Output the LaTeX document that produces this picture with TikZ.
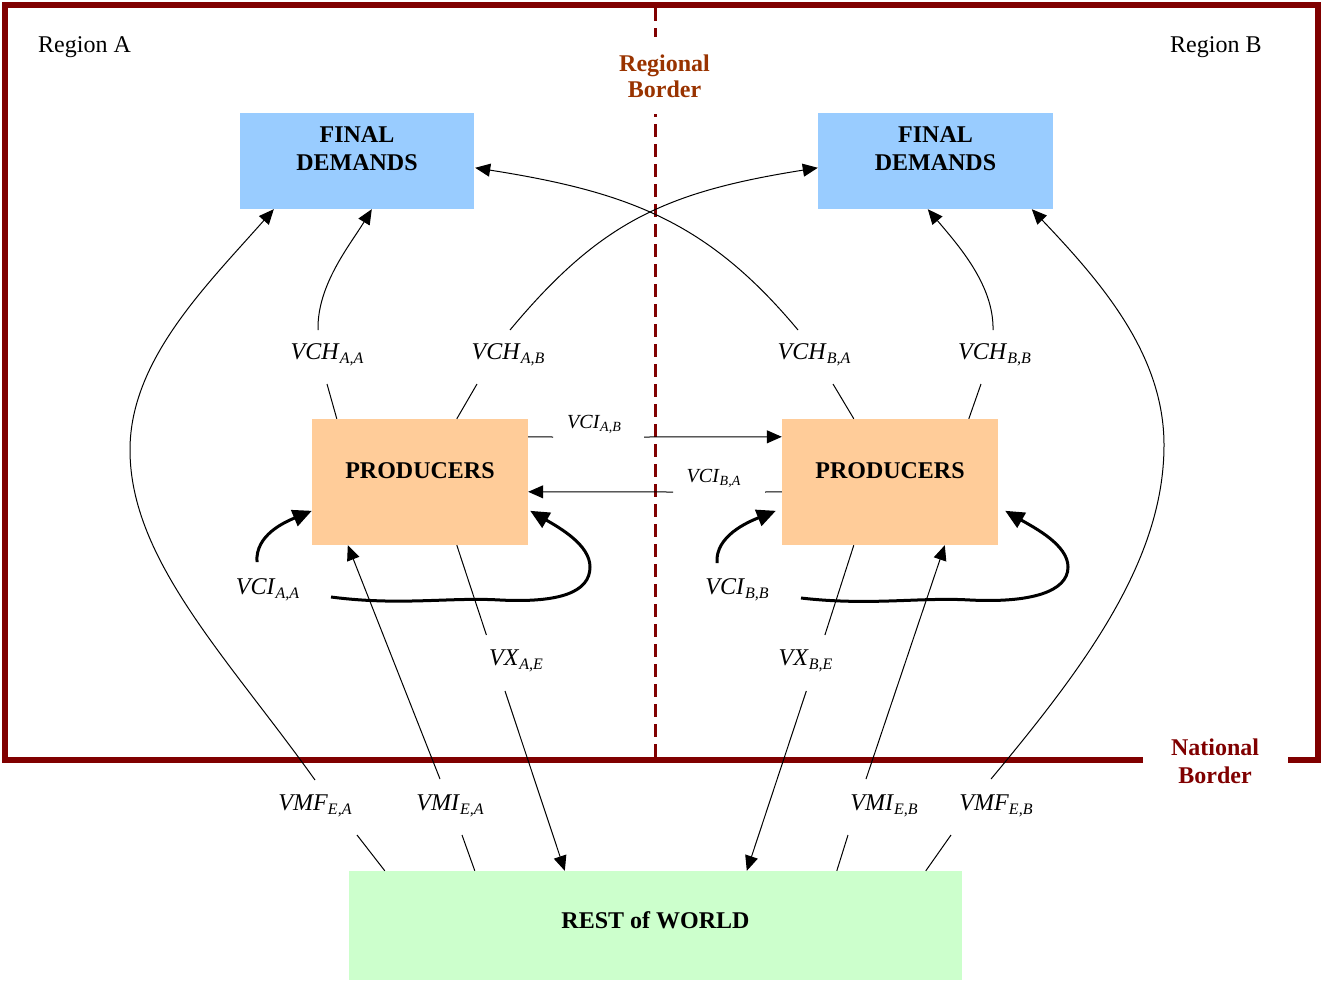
\documentclass[tikz,border=0pt]{standalone}
\usepackage{fontspec}
\setmainfont{Liberation Serif}
\usetikzlibrary{arrows.meta,calc}
\definecolor{natred}{HTML}{800000}
\definecolor{regbrown}{HTML}{993300}
\definecolor{fdblue}{HTML}{99CCFF}
\definecolor{prodorange}{HTML}{FFCC99}
\definecolor{rowgreen}{HTML}{CCFFCC}
\newcommand{\flowlab}[2]{\textit{#1}\raisebox{-4pt}{\fontsize{16}{16}\selectfont\itshape #2}}
\newcommand{\flowlabsm}[2]{\textit{#1}\raisebox{-3pt}{\fontsize{14}{14}\selectfont\itshape #2}}
\begin{document}
\begin{tikzpicture}[x=1pt,y=-1pt,
  boxbase/.style={draw=none, inner sep=0pt, font=\fontsize{24}{28}\selectfont\bfseries},
  fdbox/.style={boxbase, fill=fdblue, minimum width=234pt, minimum height=96pt},
  prodbox/.style={boxbase, fill=prodorange, minimum width=216pt, minimum height=126pt, text height=8pt, text depth=16pt},
  rowbox/.style={boxbase, fill=rowgreen, minimum width=613pt, minimum height=109pt, text height=12pt, text depth=7pt},
  boxtext/.style={inner sep=0pt, align=center, font=\fontsize{24}{28}\selectfont\bfseries},
  flab/.style={inner sep=0pt, anchor=base, font=\fontsize{24}{28}\selectfont},
  flabsm/.style={inner sep=0pt, anchor=base, font=\fontsize{20}{24}\selectfont},
  flowarrow/.style={line width=1pt, -{Triangle[length=15pt,width=13pt]}},
  flowplain/.style={line width=1pt},
  selfloop/.style={line width=3pt, -{Triangle[length=19pt,width=17pt]}},
  natborder/.style={line width=6pt, natred, miter limit=10},
  regborder/.style={line width=3pt, natred, dash pattern=on 13pt off 7pt, dash phase=10pt},
  regtext/.style={inner sep=0pt, align=center, font=\fontsize{24}{26}\selectfont\bfseries, text=regbrown},
  nattext/.style={inner sep=0pt, align=center, font=\fontsize{24}{28}\selectfont\bfseries, text=natred},
  regiontext/.style={inner sep=0pt, anchor=base west, font=\fontsize{24}{28}\selectfont}
]
\useasboundingbox (0,0) rectangle (1321,980);

% ---------- borders ----------
\draw[natborder] (1143,760) -- (5,760) -- (5,5) -- (1318,5) -- (1318,760) -- (1288,760);
\node[nattext, anchor=north] (natlab) at (1215,739) {National\\Border};

\node[regtext, anchor=north] (reglab) at (664.5,55) {Regional\\Border};
\draw[line width=3pt, natred, dash pattern=on 13pt off 7pt] (655,8) -- (655,37);
\draw[regborder] (655,114) -- (655,757);

\node[regiontext] (regA) at (38,52) {Region A};
\node[regiontext] (regB) at (1170,52) {Region B};

% ---------- boxes ----------
\node[fdbox] (fdA) at (357,161) {};
\node[fdbox, minimum width=235pt] (fdB) at (935.5,161) {};
\node[boxtext, anchor=north] (fdAt) at ($(fdA.north)+(0,14)$) {FINAL\\DEMANDS};
\node[boxtext, anchor=north] (fdBt) at ($(fdB.north)+(0,14)$) {FINAL\\DEMANDS};
\node[prodbox] (pA) at (420,482) {PRODUCERS};
\node[prodbox] (pB) at (890,482) {PRODUCERS};
\node[rowbox] (row) at (655.5,925.5) {REST of WORLD};

% ---------- labels ----------
\node[flab] (vchAA) at (327,359) {\flowlab{VCH}{A,A}};
\node[flab] (vchAB) at (508,359) {\flowlab{VCH}{A,B}};
\node[flab] (vchBA) at (814,359) {\flowlab{VCH}{B,A}};
\node[flab] (vchBB) at (994.5,359) {\flowlab{VCH}{B,B}};
\node[flabsm] (vciAB) at (594,428) {\flowlabsm{VCI}{A,B}};
\node[flabsm] (vciBA) at (713.5,482) {\flowlabsm{VCI}{B,A}};
\node[flab] (vciAA) at (267.5,594) {\flowlab{VCI}{A,A}};
\node[flab] (vciBB) at (737,594) {\flowlab{VCI}{B,B}};
\node[flab] (vxAE) at (516,665) {\flowlab{VX}{A,E}};
\node[flab] (vxBE) at (805.5,665) {\flowlab{VX}{B,E}};
\node[flab] (vmfEA) at (315,810) {\flowlab{VMF}{E,A}};
\node[flab] (vmiEA) at (450,810) {\flowlab{VMI}{E,A}};
\node[flab] (vmiEB) at (884,810) {\flowlab{VMI}{E,B}};
\node[flab] (vmfEB) at (996,810) {\flowlab{VMF}{E,B}};

% ---------- VCH flows ----------
\draw[flowplain] ($(pA.north west)+(25,0)$) -- ($(vchAA.base)+(0,25)$);
\draw[flowarrow] ($(vchAA.base)+(-9,-29)$) .. controls (317,285) and (350,245) .. ($(fdA.south west)+(132,0)$);

\draw[flowplain] ($(pA.north west)+(145,0)$) -- ($(vchAB.base)+(-31,25)$);
\draw[flowarrow] ($(vchAB.base)+(2,-29)$) .. controls (600,222) and (665,192) .. ($(fdB.north west)+(0,55)$);

\draw[flowplain] ($(pB.north west)+(72,0)$) -- ($(vchBA.base)+(19,25)$);
\draw[flowarrow] ($(vchBA.base)+(-16,-29)$) .. controls (708,222) and (629,192) .. ($(fdA.north east)+(1,55)$);

\draw[flowplain] ($(pB.north west)+(187,0)$) -- ($(vchBB.base)+(-13.5,25)$);
\draw[flowarrow] ($(vchBB.base)+(-1.5,-29)$) .. controls (994,285) and (958,245) .. ($(fdB.south west)+(110,0)$);

% ---------- VCI between regions ----------
\draw[flowplain] ($(pA.north east)+(0,18)$) -- ($(vciAB.base)+(-41,9)$);
\draw[flowarrow] ($(vciAB.base)+(50,9)$) -- ($(pB.north west)+(0,18)$);
\draw[flowplain] ($(pB.north west)+(0,73)$) -- ($(vciBA.base)+(51.5,10)$);
\draw[flowarrow] ($(vciBA.base)+(-40.5,10)$) -- ($(pA.north east)+(0,73)$);

% ---------- VCI within regions (loops) ----------
\draw[selfloop] ($(vciAA.base)+(-10.5,-32)$) .. controls (255,535) and (285,522) .. ($(pA.north west)+(0,92)$);
\draw[selfloop] ($(vciAA.base)+(63.5,3)$) .. controls (400,606) and (450,597) .. (500,600)
   .. controls (560,603) and (590,592) .. (590,567) .. controls (590,545) and (560,528) .. ($(pA.north east)+(2,92)$);
\draw[selfloop] ($(vciBB.base)+(-20,-31)$) .. controls (715,536) and (748,522) .. ($(pB.north west)+(-6,92)$);
\draw[selfloop] ($(vciBB.base)+(64,4)$) .. controls (870,606) and (920,597) .. (970,600)
   .. controls (1030,603) and (1068,592) .. (1068,567) .. controls (1068,545) and (1035,528) .. ($(pB.north east)+(7,92)$);

% ---------- exports ----------
\draw[flowplain] ($(pA.south west)+(145,0)$) -- ($(vxAE.base)+(-29.6,-30)$);
\draw[flowarrow] ($(vxAE.base)+(-11,26)$) -- ($(row.north west)+(216,0)$);
\draw[flowplain] ($(pB.south west)+(72,0)$) -- ($(vxBE.base)+(19.4,-30)$);
\draw[flowarrow] ($(vxBE.base)+(0.8,26)$) -- ($(row.north west)+(398,0)$);

% ---------- imports (intermediate) ----------
\draw[flowplain] ($(row.north west)+(126,0)$) -- ($(vmiEA.base)+(12,25)$);
\draw[flowarrow] ($(vmiEA.base)+(-10,-31)$) -- ($(pA.south west)+(36,0)$);
\draw[flowplain] ($(row.north west)+(488,0)$) -- ($(vmiEB.base)+(-36,25)$);
\draw[flowarrow] ($(vmiEB.base)+(-18,-31)$) -- ($(pB.south west)+(163,0)$);

% ---------- imports (final) ----------
\draw[flowplain] ($(row.north west)+(36,0)$) -- ($(vmfEA.base)+(42,25)$);
\draw[flowarrow] ($(vmfEA.base)+(0,-30)$) .. controls (228,658) and (130,560) .. (130,450)
   .. controls (130,360) and (206,286) .. ($(fdA.south west)+(34,0)$);
\draw[flowplain] ($(row.north west)+(577,0)$) -- ($(vmfEB.base)+(-45,25)$);
\draw[flowarrow] ($(vmfEB.base)+(-5,-31)$) .. controls (1086,665) and (1164,560) .. (1164,445)
   .. controls (1164,355) and (1102,283) .. ($(fdB.south west)+(214,0)$);
\end{tikzpicture}
\end{document}
